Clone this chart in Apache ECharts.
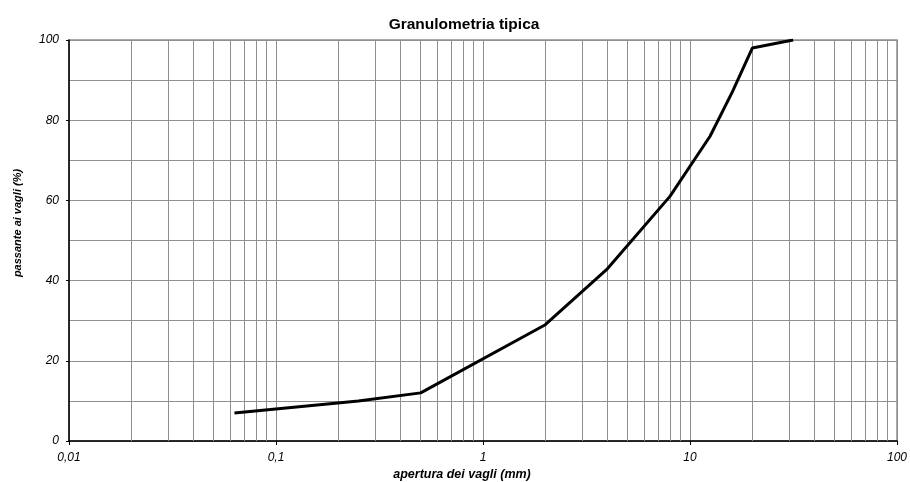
<!DOCTYPE html>
<html>
<head>
<meta charset="utf-8">
<script src="https://cdn.jsdelivr.net/npm/echarts@6/dist/echarts.min.js"></script>
<style>
html,body{margin:0;padding:0;background:#fff;}
#chart{width:910px;height:482px;}
</style>
</head>
<body>
<div id="chart"></div>
<script>
// ---- data ----
var sieveSizes = [0.063, 0.25, 0.5, 2, 4, 8, 12.5, 16, 20, 31.5];   // apertura dei vagli (mm)
var passing    = [7, 10, 12, 29, 43, 61, 76, 87, 98, 100];          // passante ai vagli (%)
var xTickValues = [0.01, 0.1, 1, 10, 100];
var xTickLabels = ['0,01', '0,1', '1', '10', '100'];
var yTickLabels = ['0', '20', '40', '60', '80', '100'];
var titleText = 'Granulometria tipica';
var xAxisName = 'apertura dei vagli (mm)';
var yAxisName = 'passante ai vagli (%)';

// minor log grid values (2..9 in each decade)
var minorX = [];
for (var d = 0; d < xTickValues.length - 1; d++) {
  for (var m = 2; m <= 9; m++) minorX.push(+(xTickValues[d] * m).toPrecision(6));
}

var FONT = "'Liberation Sans', Arial, Helvetica, sans-serif";
var GRID = '#8f8f8f';

var chart = echarts.init(document.getElementById('chart'), null, {renderer: 'canvas'});
chart.setOption({
  animation: false,
  backgroundColor: '#fff',
  title: {
    text: titleText, left: 459, top: 12, textAlign: 'center',
    textStyle: {fontFamily: FONT, fontSize: 15.5, fontWeight: 'bold', color: '#000'}
  },
  grid: {left: 69, right: 13, top: 40, bottom: 41, show: true, borderColor: '#909090', borderWidth: 1.5},
  xAxis: {
    type: 'log', logBase: 10, min: 0.01, max: 100,
    axisLine: {show: true, onZero: false, lineStyle: {color: '#000', width: 1.5}},
    axisTick: {show: true, length: 4, lineStyle: {color: '#000'}},
    axisLabel: {
      fontFamily: FONT, fontSize: 12, fontStyle: 'italic', color: '#000', margin: 11,
      formatter: function (v) {
        var i = Math.round(Math.log10(v)) + 2;
        return xTickLabels[i] !== undefined ? xTickLabels[i] : '';
      }
    },
    splitLine: {show: true, lineStyle: {color: GRID, width: 1}}
  },
  yAxis: {
    type: 'value', min: 0, max: 100, interval: 20,
    axisLine: {show: true, onZero: false, lineStyle: {color: '#000', width: 1.5}},
    axisTick: {show: true, length: 3, lineStyle: {color: '#000'}},
    axisLabel: {
      fontFamily: FONT, fontSize: 12, fontStyle: 'italic', color: '#000', margin: 10,
      formatter: function (v) { return yTickLabels[Math.round(v / 20)]; }
    },
    splitLine: {show: true, lineStyle: {color: GRID, width: 1}},
    minorTick: {show: false, splitNumber: 2},
    minorSplitLine: {show: true, lineStyle: {color: GRID, width: 1}}
  },
  graphic: [
    {type: 'text', x: 462, y: 475, style: {text: xAxisName, font: "italic bold 12.5px " + FONT, fill: '#000', align: 'center', verticalAlign: 'middle'}},
    {type: 'text', rotation: Math.PI / 2, x: 18, y: 223, style: {text: yAxisName, font: "italic bold 11px " + FONT, fill: '#000', align: 'center', verticalAlign: 'middle'}}
  ],
  series: [
    {
      type: 'line', silent: true, symbol: 'none', z: 1,
      data: [],
      markLine: {
        silent: true, symbol: ['none', 'none'], label: {show: false},
        lineStyle: {color: GRID, width: 1, type: 'solid'},
        data: minorX.map(function (v) { return {xAxis: v}; })
      }
    },
    {
      type: 'line', symbol: 'none', z: 5,
      lineStyle: {color: '#000', width: 3},
      data: sieveSizes.map(function (x, i) { return [x, passing[i]]; })
    }
  ]
});
</script>
</body>
</html>
